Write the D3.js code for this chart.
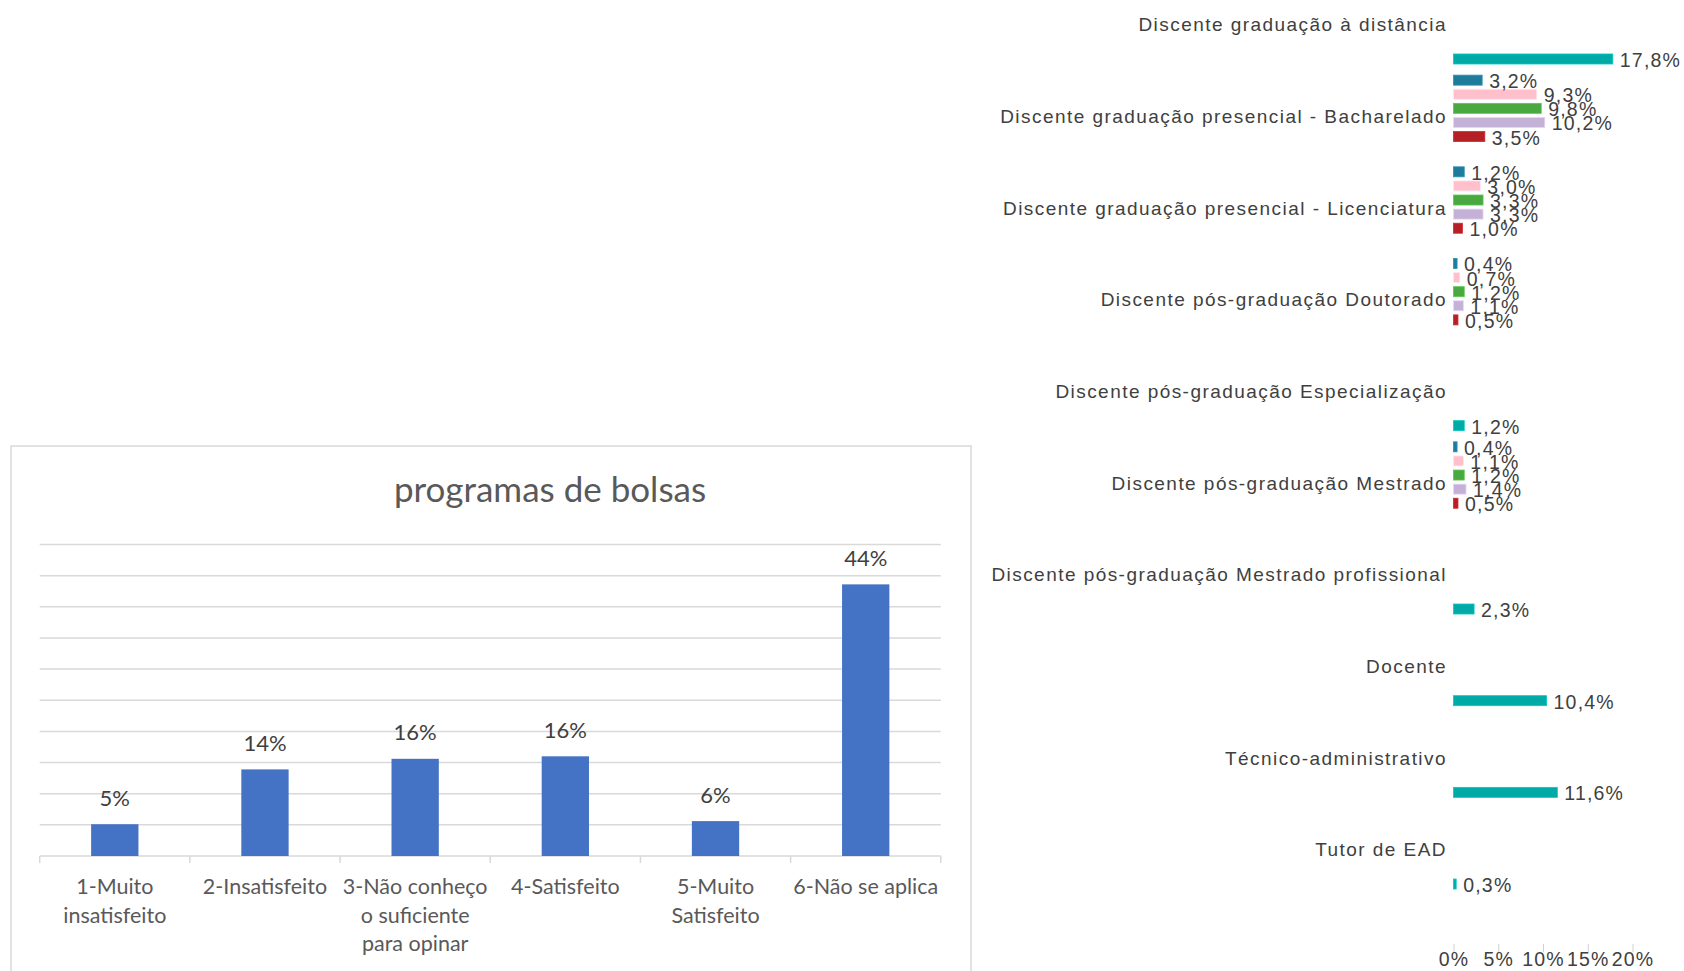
<!DOCTYPE html>
<html><head><meta charset="utf-8">
<script src="https://cdn.jsdelivr.net/npm/d3@7"></script>
<style>html,body{margin:0;padding:0;background:#fff;} svg{display:block}</style>
</head><body>
<svg id="c" width="1684" height="971"></svg>
<script>
// ---------- Left chart data ----------
const bolsaTitle = "programas de bolsas";
const bolsaCategories = ["1-Muito insatisfeito", "2-Insatisfeito", "3-Não conheço o suficiente para opinar", "4-Satisfeito", "5-Muito Satisfeito", "6-Não se aplica"];
const bolsaLabelLines = [["1-Muito", "insatisfeito"], ["2-Insatisfeito"], ["3-Não conheço", "o suficiente", "para opinar"], ["4-Satisfeito"], ["5-Muito", "Satisfeito"], ["6-Não se aplica"]];
const bolsaValues = [5.1, 13.9, 15.6, 16.0, 5.6, 43.6];
const bolsaGridTicks = [0, 5, 10, 15, 20, 25, 30, 35, 40, 45, 50];

// ---------- Right chart data ----------
const groupCategories = [
  "Discente graduação à distância",
  "Discente graduação presencial - Bacharelado",
  "Discente graduação presencial - Licenciatura",
  "Discente pós-graduação Doutorado",
  "Discente pós-graduação Especialização",
  "Discente pós-graduação Mestrado",
  "Discente pós-graduação Mestrado profissional",
  "Docente",
  "Técnico-administrativo",
  "Tutor de EAD"
];
const seriesNames = ["Série 1", "Série 2", "Série 3", "Série 4", "Série 5", "Série 6"];
const seriesColors = ["#1f7b9a", "#ffc0cb", "#4aa840", "#c3b1d6", "#b52025", "#00aaa6"];
const serie1 = [null, 3.2, 1.2, 0.4, null, 0.4, null, null, null, null];
const serie2 = [null, 9.3, 3.0, 0.7, null, 1.1, null, null, null, null];
const serie3 = [null, 9.8, 3.3, 1.2, null, 1.2, null, null, null, null];
const serie4 = [null, 10.2, 3.3, 1.1, null, 1.4, null, null, null, null];
const serie5 = [null, 3.5, 1.0, 0.5, null, 0.5, null, null, null, null];
const serie6 = [17.8, null, null, null, 1.2, null, 2.3, 10.4, 11.6, 0.3];
const seriesValues = [serie1, serie2, serie3, serie4, serie5, serie6];
const xTicksRight = [0, 5, 10, 15, 20];

const svg = d3.select("#c");
svg.append("rect").attr("width", 1684).attr("height", 971).attr("fill", "#fff");

// ================= Left chart =================
const L = svg.append("g");
const calib = "Lato, 'Open Sans', sans-serif";
L.append("rect").attr("x", 11).attr("y", 446).attr("width", 960).attr("height", 560)
  .attr("fill", "#fff").attr("stroke", "#d9d9d9").attr("stroke-width", 1.5);

L.append("text").attr("x", 550).attr("y", 488).attr("text-anchor", "middle")
  .attr("dominant-baseline", "central").attr("font-family", calib).attr("font-size", 35)
  .attr("fill", "#595959").text(bolsaTitle);

const xL = d3.scaleBand().domain(bolsaCategories).range([39.7, 940.8]).paddingInner(0.685).paddingOuter(0.3425);
const yL = d3.scaleLinear().domain([0, 50]).range([856, 544.5]);

L.append("g").selectAll("line").data(bolsaGridTicks).join("line")
  .attr("x1", xL.range()[0]).attr("x2", xL.range()[1])
  .attr("y1", d => yL(d)).attr("y2", d => yL(d))
  .attr("stroke", "#d9d9d9").attr("stroke-width", 1.5);

// category tick marks
L.append("g").selectAll("line").data(d3.range(bolsaCategories.length + 1)).join("line")
  .attr("x1", i => xL.range()[0] + i * xL.step()).attr("x2", i => xL.range()[0] + i * xL.step())
  .attr("y1", yL(0)).attr("y2", yL(0) + 7)
  .attr("stroke", "#d9d9d9").attr("stroke-width", 1.5);

L.append("g").selectAll("rect").data(bolsaValues).join("rect")
  .attr("x", (d, i) => xL(bolsaCategories[i])).attr("width", xL.bandwidth())
  .attr("y", d => yL(d)).attr("height", d => yL(0) - yL(d))
  .attr("fill", "#4472c4");

L.append("g").selectAll("text").data(bolsaValues).join("text")
  .attr("x", (d, i) => xL(bolsaCategories[i]) + xL.bandwidth() / 2)
  .attr("y", d => yL(d) - 27).attr("text-anchor", "middle").attr("dominant-baseline", "central")
  .attr("font-family", calib).attr("font-size", 22).attr("fill", "#404040")
  .text(d => Math.round(d) + "%");

const catG = L.append("g");
bolsaCategories.forEach((c, i) => {
  const cx = xL(c) + xL.bandwidth() / 2;
  bolsaLabelLines[i].forEach((ln, j) => {
    catG.append("text").attr("x", cx).attr("y", 886 + j * 28.5)
      .attr("text-anchor", "middle").attr("dominant-baseline", "central")
      .attr("font-family", calib).attr("font-size", 21.5).attr("fill", "#595959").text(ln);
  });
});

// ================= Right chart =================
const R = svg.append("g");
const arial = "'Liberation Sans', Arial, sans-serif";
const xR = d3.scaleLinear().domain([0, 20]).range([1453.5, 1632.5]);
const yR = d3.scaleBand().domain(groupCategories).range([-22.1, 894.6]).paddingInner(0.077).paddingOuter(0.0385);
const ySub = d3.scaleBand().domain(seriesNames).range([0, yR.bandwidth()]).paddingInner(0.29).paddingOuter(0.145);

R.append("g").selectAll("text").data(groupCategories).join("text")
  .attr("x", 1447).attr("y", d => yR(d) + yR.bandwidth() / 2 + 1)
  .attr("text-anchor", "end").attr("dominant-baseline", "central")
  .attr("font-family", arial).attr("font-size", 19).attr("letter-spacing", 1.45)
  .attr("fill", "#404040").text(d => d);

const flat = [];
seriesNames.forEach((s, si) => {
  seriesValues[si].forEach((v, ci) => {
    if (v !== null) flat.push({ s, si, cat: groupCategories[ci], v });
  });
});

R.append("g").selectAll("rect").data(flat).join("rect")
  .attr("x", xR(0)).attr("y", d => yR(d.cat) + ySub(d.s))
  .attr("width", d => xR(d.v) - xR(0)).attr("height", ySub.bandwidth())
  .attr("fill", d => seriesColors[d.si])
  .attr("stroke", d => d3.color(seriesColors[d.si]).brighter(0.5)).attr("stroke-width", 0.8);

R.append("g").selectAll("text").data(flat).join("text")
  .attr("x", d => xR(d.v) + 7).attr("y", d => yR(d.cat) + ySub(d.s) + ySub.bandwidth() / 2 + 1)
  .attr("dominant-baseline", "central")
  .attr("font-family", arial).attr("font-size", 19.5).attr("letter-spacing", 1.2)
  .attr("fill", "#404040").text(d => d.v.toFixed(1).replace(".", ",") + "%");

const ax = R.append("g").attr("transform", "translate(0,944)")
  .call(d3.axisBottom(xR).tickValues(xTicksRight).tickSize(8).tickFormat(d => d + "%"));
ax.select(".domain").remove();
ax.selectAll(".tick line").attr("stroke", "#d0d0d0");
ax.selectAll(".tick text").attr("y", 15).attr("dy", "0.35em")
  .attr("font-family", arial).attr("font-size", 19.5).attr("letter-spacing", 1.2).attr("fill", "#404040");
</script>
</body></html>
